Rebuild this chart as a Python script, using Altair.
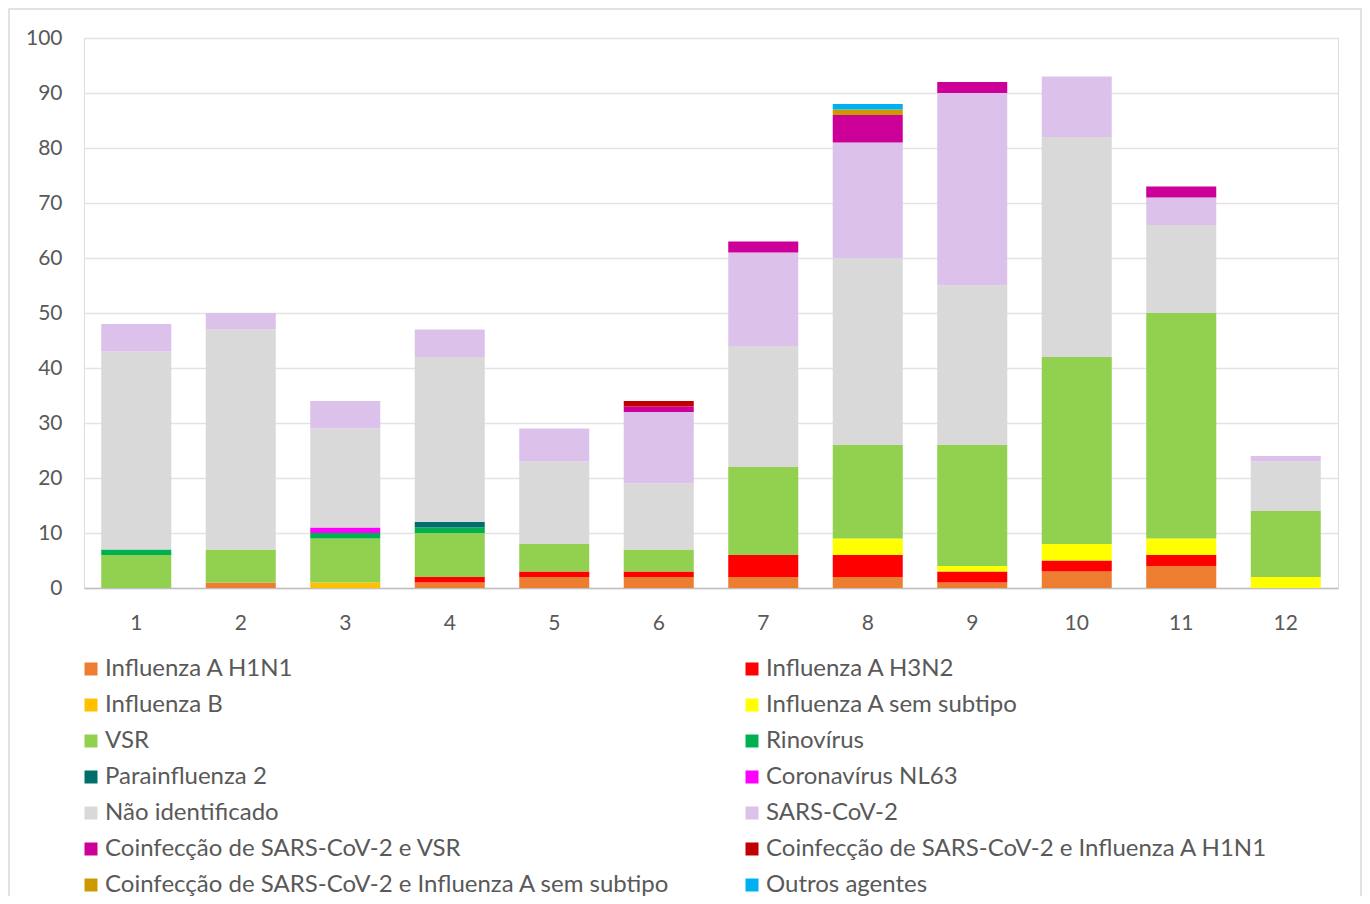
import altair as alt
import pandas as pd

categories = [str(i) for i in range(1, 13)]

series = [
    "Influenza A H1N1", "Influenza A H3N2", "Influenza B", "Influenza A sem subtipo",
    "VSR", "Rinovírus", "Parainfluenza 2", "Coronavírus NL63",
    "Não identificado", "SARS-CoV-2", "Coinfecção de SARS-CoV-2 e VSR",
    "Coinfecção de SARS-CoV-2 e Influenza A H1N1",
    "Coinfecção de SARS-CoV-2 e Influenza A sem subtipo", "Outros agentes",
]
colors = [
    "#ED7D31", "#FF0000", "#FFC000", "#FFFF00",
    "#92D050", "#00B050", "#006F6A", "#FF00FF",
    "#D9D9D9", "#DCC2EA", "#CC0099",
    "#C00000",
    "#CC9900", "#00B0F0",
]

h1n1 = [0, 1, 0, 1, 2, 2, 2, 2, 1, 3, 4, 0]
h3n2 = [0, 0, 0, 1, 1, 1, 4, 4, 2, 2, 2, 0]
flu_b = [0, 0, 1, 0, 0, 0, 0, 0, 0, 0, 0, 0]
flu_a_sem = [0, 0, 0, 0, 0, 0, 0, 3, 1, 3, 3, 2]
vsr = [6, 6, 8, 8, 5, 4, 16, 17, 22, 34, 41, 12]
rino = [1, 0, 1, 1, 0, 0, 0, 0, 0, 0, 0, 0]
para2 = [0, 0, 0, 1, 0, 0, 0, 0, 0, 0, 0, 0]
nl63 = [0, 0, 1, 0, 0, 0, 0, 0, 0, 0, 0, 0]
nao_id = [36, 40, 18, 30, 15, 12, 22, 34, 29, 40, 16, 9]
sars = [5, 3, 5, 5, 6, 13, 17, 21, 35, 11, 5, 1]
coinf_vsr = [0, 0, 0, 0, 0, 1, 2, 5, 2, 0, 2, 0]
coinf_h1n1 = [0, 0, 0, 0, 0, 1, 0, 0, 0, 0, 0, 0]
coinf_sem = [0, 0, 0, 0, 0, 0, 0, 1, 0, 0, 0, 0]
outros = [0, 0, 0, 0, 0, 0, 0, 1, 0, 0, 0, 0]

values = [h1n1, h3n2, flu_b, flu_a_sem, vsr, rino, para2, nl63,
          nao_id, sars, coinf_vsr, coinf_h1n1, coinf_sem, outros]

rows = []
for si, (name, vals) in enumerate(zip(series, values)):
    for c, v in zip(categories, vals):
        if v > 0:
            rows.append({"mes": c, "serie": name, "ordem": si, "valor": v})
df = pd.DataFrame(rows)

FONT = "Lato"
TXT = "#595959"

bars = alt.Chart(df).mark_bar().encode(
    x=alt.X("mes:N", sort=categories, title=None,
            scale=alt.Scale(paddingInner=0.33, paddingOuter=0.165),
            axis=alt.Axis(labelAngle=0, labelFont=FONT, labelFontSize=21, labelColor=TXT,
                          labelPadding=24, ticks=False, domainColor="#BFBFBF", domainWidth=1.5,
                          grid=False)),
    y=alt.Y("valor:Q", stack="zero", title=None,
            scale=alt.Scale(domain=[0, 100], nice=False),
            axis=alt.Axis(values=list(range(0, 101, 10)), labelFont=FONT, labelFontSize=21,
                          labelColor=TXT, labelPadding=22, ticks=False, domain=False,
                          gridColor="#E3E3E3", gridWidth=1.3)),
    color=alt.Color("serie:N", scale=alt.Scale(domain=series, range=colors), title=None,
                    legend=alt.Legend(orient="none", legendX=-5, legendY=619, columns=2,
                                      direction="horizontal",
                                      symbolType="square", symbolSize=169, symbolStrokeWidth=0,
                                      labelFont=FONT, labelFontSize=24, labelColor=TXT,
                                      labelOffset=2, rowPadding=12, columnPadding=69,
                                      padding=0, labelLimit=1000)),
    order=alt.Order("ordem:Q", sort="ascending"),
)

border = alt.Chart(pd.DataFrame({"b": [0]})).mark_rect(
    fill=None, stroke="#D9D9D9", strokeWidth=1.5, clip=False
).encode(x=alt.value(-75), x2=alt.value(1277), y=alt.value(-29), y2=alt.value(1000))

chart = alt.layer(border, bars).properties(
    width=1254, height=550,
    padding={"left": 76, "top": 30, "right": 24, "bottom": 308},
    autosize=alt.AutoSizeParams(type="none"),
).configure_view(stroke=None).configure(background="white")

chart.save("out.html", embed_options={"renderer": "svg", "actions": False})
